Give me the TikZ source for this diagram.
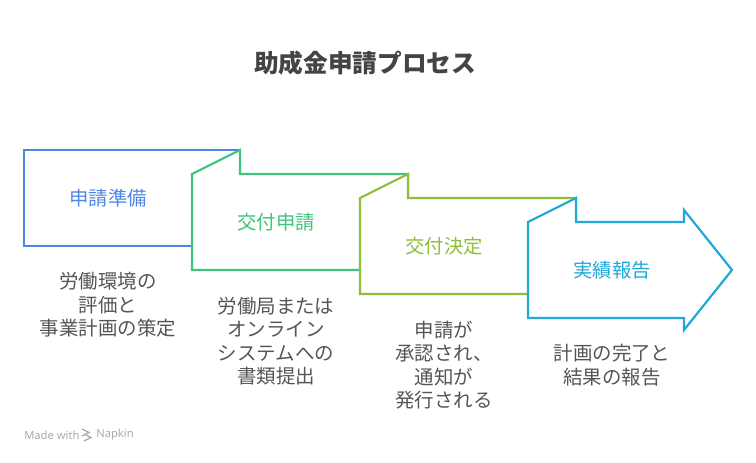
\documentclass[tikz,border=0pt]{standalone}
\usepackage{fontspec}
\setmainfont{Noto Sans CJK JP}
\newfontfamily\wmfont{Noto Sans}
\definecolor{cblue}{HTML}{4F86E3}
\definecolor{cgreen}{HTML}{3DC47E}
\definecolor{colive}{HTML}{8DBF3A}
\definecolor{ccyan}{HTML}{1FA8D8}
\definecolor{ctext}{HTML}{555555}
\definecolor{ctitle}{HTML}{444444}
\definecolor{cwm}{HTML}{ABABAB}
\tikzset{
  stagebox/.style={line width=1.6pt, fill=white, line join=miter},
  stagelabel/.style={font=\fontsize{14.5pt}{17.5pt}\selectfont, inner sep=0pt},
  desc/.style={font=\fontsize{14.6pt}{17.6pt}\selectfont, text=ctext, align=center, inner sep=0pt},
  wmark/.style={font=\wmfont\fontsize{8.4pt}{9pt}\selectfont, text=cwm, anchor=west, inner sep=0pt},
}
\begin{document}
\begin{tikzpicture}[x=0.75pt,y=-0.75pt]
\useasboundingbox (0,0) rectangle (756,463);
% title
\node[font=\fontsize{18.5pt}{22pt}\selectfont\bfseries, text=ctitle, inner sep=0pt] (title) at (365,63) {助成金申請プロセス};
% box 1
\draw[stagebox, draw=cblue] (24,150) coordinate (b1) rectangle (240,246);
% box 2
\draw[stagebox, draw=cgreen] (192,174) coordinate (b2) -- (240,150) -- (240,174) -- (408,174) -- (408,270) -- (192,270) -- cycle;
% box 3
\draw[stagebox, draw=colive] (360,198) coordinate (b3) -- (408,174) -- (408,198) -- (576,198) -- (576,294) -- (360,294) -- cycle;
% box 4 (arrow)
\draw[stagebox, draw=ccyan] (528,222) coordinate (b4) -- (576,198) -- (576,222) -- (684,222) -- (684,210) -- (732,270) -- (684,330) -- (684,318) -- (528,318) -- cycle;
% labels
\node[stagelabel, text=cblue] (l1) at (108,198) {申請準備};
\node[stagelabel, text=cgreen] (l2) at (276,222) {交付申請};
\node[stagelabel, text=colive] (l3) at (444,246) {交付決定};
\node[stagelabel, text=ccyan] (l4) at (612,270) {実績報告};
% descriptions
\node[desc] (d1) at (108,305) {労働環境の\\評価と\\事業計画の策定};
\node[desc] (d2) at (276,341) {労働局または\\オンライン\\システムへの\\書類提出};
\node[desc] (d3) at (444,365) {申請が\\承認され、\\通知が\\発行される};
\node[desc] (d4) at (612,365) {計画の完了と\\結果の報告};
% watermark
\node[wmark] (wm1) at (24,435) {Made with};
\node[wmark] (wm2) at (96,435) {Napkin};
\begin{scope}[draw=cwm, line width=0.9pt]
\draw (82,429) -- (89,432.5) -- (82,436);
\draw (84,434) -- (91,437.5) -- (84,441);
\end{scope}
\end{tikzpicture}
\end{document}
